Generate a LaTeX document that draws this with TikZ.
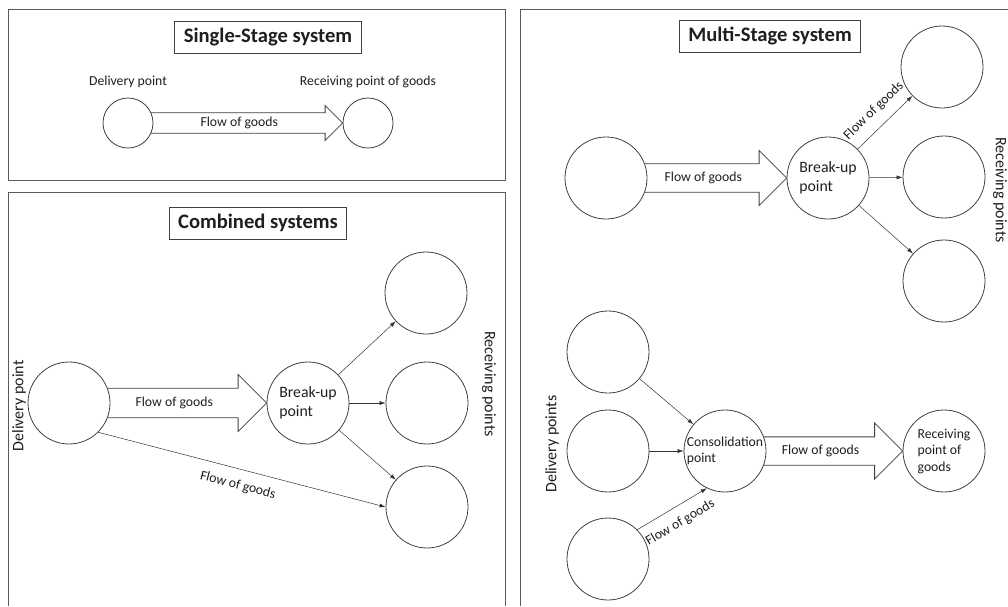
\documentclass[tikz,border=0pt]{standalone}
\usepackage{fontspec}
\setmainfont{Carlito}
\usepackage{tikz}
\usetikzlibrary{positioning,arrows.meta,calc}
\definecolor{colorline}  {RGB}{64 ,64 ,64 }
\definecolor{colorframe} {RGB}{90 ,90 ,90 }
\definecolor{colortext}  {RGB}{30 ,30 ,30 }

% wide arrow for the main flow of goods: from node, to node, tail angle, head size
\newcommand{\goodsflow}[4]{%
    \path (#2.west) ++(-#4,0) coordinate (#1head);
    \draw[fat] (#1.#3) -- (#1.#3 -| #1head) -- ($(#1head)+(0,-#4)$) -- (#2.west)
        -- ($(#1head)+(0,#4)$) -- (#1.-#3 -| #1head) -- (#1.-#3);
    \node[txt] (#1flow) at ($(#1.east)!0.5!(#1head)$) {Flow of goods};
}

\begin{document}
\begin{tikzpicture}[
    x=1pt, y=-1pt,
    font={\fontsize{13.7}{16.5}\selectfont}, text=colortext,
    panel/.style={draw=colorframe,line width=1pt},
    title/.style={draw=colorline,line width=0.8pt,font={\fontsize{20.6}{24}\selectfont\bfseries},inner xsep=9pt,minimum height=32pt},
    pointnode/.style={circle,draw=colorline,line width=0.8pt,minimum size=82pt,inner sep=0pt,align=left},
    smallnode/.style={pointnode,minimum size=50pt},
    bigtxt/.style={font={\fontsize{15.8}{19.5}\selectfont}},
    txt/.style={align=center,inner sep=1pt},
    side/.style={txt,font={\fontsize{16}{19}\selectfont}},
    fat/.style={draw=colorline,line width=0.8pt,line join=miter},
    flowline/.style={-{Latex[length=6pt,width=4pt]},draw=black!80,line width=0.5pt},
]
    \useasboundingbox (0,0) rectangle (1008,606);

    % Panels
    \draw[panel] (8,9) rectangle (505,180);
    \draw[panel] (8,606) -- (8,192) -- (505,192) -- (505,606);
    \draw[panel] (520,606) -- (520,9) -- (1008,9);

    % Single-stage system
    \node[title] (stitle) at (268,37.5) {Single-Stage system};
    \node[smallnode] (sdel) at (128,123) {};
    \node[smallnode] (srec) at (368,123) {};
    \node[txt] (sdeltxt) at (128,82) {Delivery point};
    \node[txt] (srectxt) at (368,82) {Receiving point of goods};
    \goodsflow{sdel}{srec}{24}{17.5}

    % Combined systems
    \node[title] (ctitle) at (258,223) {Combined systems};
    \node[pointnode] (cdel) at (69,403) {};
    \node[pointnode,bigtxt] (cbrk) at (308,403) {Break-up\\point};
    \node[pointnode] (crec1) at (426,293) {};
    \node[pointnode] (crec2) at (427,403) {};
    \node[pointnode] (crec3) at (427,507) {};
    \node[side,rotate=90] (cdeltxt) at (19,406) {Delivery point};
    \node[side,rotate=-90] (crectxt) at (489,384) {Receiving points};
    \goodsflow{cdel}{cbrk}{21}{28.5}
    \draw[flowline] (cbrk) -- (crec1);
    \draw[flowline] (cbrk) -- (crec2);
    \draw[flowline] (cbrk) -- (crec3);
    \draw[flowline] (cdel.south east) -- node[txt,sloped,below=9pt] (cdelflow) {Flow of goods} (crec3.west);

    % Multi-stage system, break-up
    \node[title] (mtitle) at (770,36) {Multi-Stage system};
    \node[pointnode] (mdel) at (606,178) {};
    \node[pointnode,bigtxt] (mbrk) at (828,178) {Break-up\\point};
    \node[pointnode] (mrec1) at (942,67) {};
    \node[pointnode] (mrec2) at (944,177) {};
    \node[pointnode] (mrec3) at (944,281) {};
    \node[side,rotate=-90] (mrectxt) at (1000,190) {Receiving points};
    \goodsflow{mdel}{mbrk}{20}{27.5}
    \draw[flowline] (mbrk) -- node[txt,sloped,above=9pt] (mbrkflow) {Flow of goods} (mrec1);
    \draw[flowline] (mbrk) -- (mrec2);
    \draw[flowline] (mbrk) -- (mrec3);

    % Multi-stage system, consolidation
    \node[pointnode] (kdel1) at (608,352) {};
    \node[pointnode] (kdel2) at (608,451) {};
    \node[pointnode] (kdel3) at (608,559) {};
    \node[pointnode,inner sep=-4pt] (kcon) at (725,451) {Consolidation\\point};
    \node[pointnode] (krec) at (944,451) {Receiving\\point of\\goods};
    \node[side,rotate=90] (kdeltxt) at (552,444) {Delivery points};
    \goodsflow{kcon}{krec}{20}{28}
    \draw[flowline] (kdel1) -- (kcon);
    \draw[flowline] (kdel2) -- (kcon);
    \draw[flowline] (kdel3.north east) -- node[txt,sloped,below=9pt] (kdelflow) {Flow of goods} (kcon.244);

\end{tikzpicture}
\end{document}
